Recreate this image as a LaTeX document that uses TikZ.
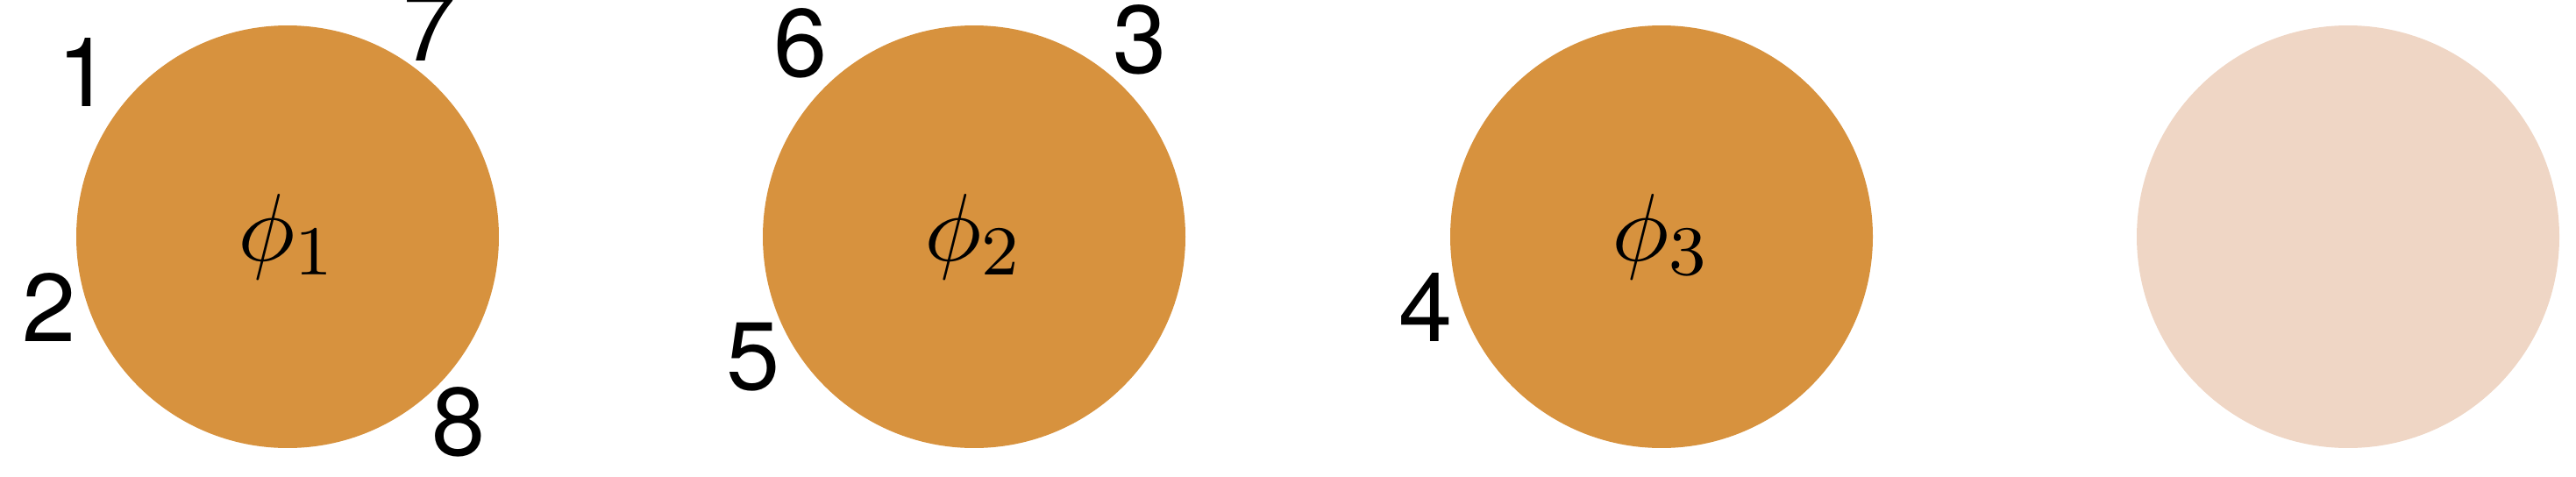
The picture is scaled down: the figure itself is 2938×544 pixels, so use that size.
\documentclass[tikz,border=0pt]{standalone}
\usepackage{fontspec}
\newfontfamily\heros{TeX Gyre Heros}
\definecolor{blobfill}{HTML}{D7923E}
\definecolor{blobpale}{HTML}{EFD6C5}
\begin{document}
\begin{tikzpicture}[x=0.1pt,y=-0.1pt,
  blob/.style={circle,fill=blobfill,draw=none,minimum size=48.2pt,inner sep=0pt,
    font=\fontsize{11}{13}\selectfont},
  paleblob/.style={blob,fill=blobpale},
  lab/.style={inner sep=0pt,font=\heros\fontsize{11}{13}\selectfont}]
\useasboundingbox (0,0) rectangle (2938,544);
\clip (0,0) rectangle (2938,544);
\node[blob] (c1) at (328,270) {$\phi_1$};
\node[blob] (c2) at (1111,270) {$\phi_2$};
\node[blob] (c3) at (1895,270) {$\phi_3$};
\node[paleblob] (c4) at (2678,270) {};
\node[lab] (l1) at (96,83) {1};
\node[lab] (l2) at (56,351) {2};
\node[lab] (l7) at (490,31) {7};
\node[lab] (l8) at (523,481) {8};
\node[lab] (l6) at (913,49) {6};
\node[lab] (l3) at (1300,45) {3};
\node[lab] (l5) at (859,407) {5};
\node[lab] (l4) at (1626,351) {4};
\end{tikzpicture}
\end{document}
